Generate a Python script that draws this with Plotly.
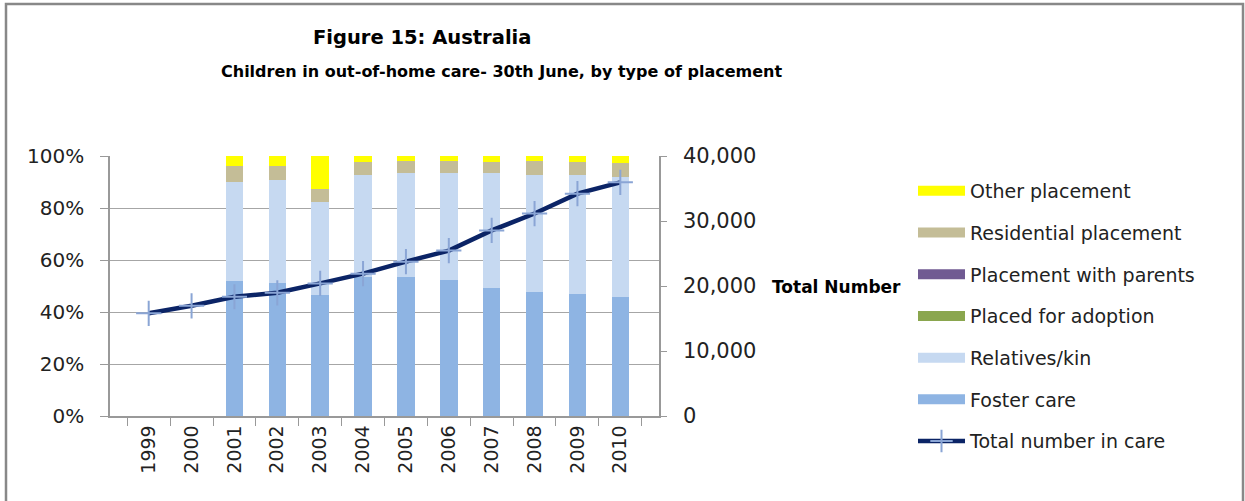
import plotly.graph_objects as go

# data
years = ["1999", "2000", "2001", "2002", "2003", "2004", "2005",
         "2006", "2007", "2008", "2009", "2010"]

# share of children by type of placement (fraction of total)
foster_care = [None, None, 0.519, 0.513, 0.465, 0.536, 0.535, 0.523, 0.494, 0.478, 0.469, 0.459]
relatives_kin = [None, None, 0.380, 0.395, 0.359, 0.392, 0.398, 0.410, 0.439, 0.449, 0.458, 0.459]
placed_adoption = [None, None, 0.0, 0.0, 0.0, 0.0, 0.0, 0.0, 0.0, 0.0, 0.0, 0.0]
with_parents = [None, None, 0.0, 0.0, 0.0, 0.0, 0.0, 0.0, 0.0, 0.0, 0.0, 0.0]
residential = [None, None, 0.064, 0.055, 0.049, 0.050, 0.049, 0.049, 0.045, 0.055, 0.050, 0.054]
other_placement = [None, None, 0.037, 0.037, 0.127, 0.022, 0.018, 0.018, 0.022, 0.018, 0.023, 0.028]

total_in_care = [15800, 16950, 18350, 18950, 20400, 21900, 23750,
                 25450, 28550, 31150, 34200, 35950]

left_ticks = [0, 0.2, 0.4, 0.6, 0.8, 1.0]
right_ticks = [0, 10000, 20000, 30000, 40000]

bar_series = [
    ("Foster care", foster_care, "#8EB4E3"),
    ("Relatives/kin", relatives_kin, "#C6D9F1"),
    ("Placed for adoption", placed_adoption, "#8AA64E"),
    ("Placement with parents", with_parents, "#705A92"),
    ("Residential placement", residential, "#C4BD97"),
    ("Other placement", other_placement, "#FFFF00"),
]

FONT = "DejaVu Sans"
W, H = 1245, 501
L, R, T, B = 110, 659, 156, 416

def px(x):
    return (x - L) / (R - L)

def py(y):
    return (B - y) / (B - T)

fig = go.Figure()

for name, vals, col in bar_series:
    fig.add_trace(go.Bar(x=years, y=vals, name=name, marker_color=col,
                         marker_line_width=0, showlegend=False, yaxis="y"))

# legend-only entries (top to bottom) so the swatch is a wide block like the original
for name, vals, col in reversed(bar_series):
    fig.add_trace(go.Scatter(x=[None], y=[None], mode="lines", name=name,
                             line=dict(color=col, width=12), legendgroup=name))

fig.add_trace(go.Scatter(
    x=years, y=total_in_care, name="Total number in care", yaxis="y2",
    mode="lines+markers",
    line=dict(color="#0B2466", width=4.5),
    marker=dict(symbol="cross-thin", size=18, color="#8AA5D5",
                line=dict(color="#8AA5D5", width=2)),
    legendgroup="total",
))

fig.update_layout(
    width=W, height=H,
    margin=dict(l=L, r=W - R, t=T, b=H - B),
    paper_bgcolor="white", plot_bgcolor="white",
    font=dict(family=FONT, size=17, color="#222"),
    barmode="stack", bargap=0.59,
    showlegend=True,
    legend=dict(x=px(913), y=py(172), xanchor="left", yanchor="top",
                traceorder="grouped", tracegroupgap=14, maxheight=420,
                itemwidth=47, font=dict(size=19, family=FONT, color="#222")),
    xaxis=dict(type="category", tickangle=-90, showline=True,
               linecolor="#999", linewidth=1.5,
               ticks="outside", tickson="boundaries", ticklen=8,
               tickcolor="#999", tickfont=dict(size=19), showgrid=False),
    yaxis=dict(range=[0, 1], tickvals=left_ticks, tickformat=".0%",
               showgrid=True, gridcolor="#a6a6a6", gridwidth=1.2,
               showline=True, linecolor="#999", linewidth=1.5,
               ticks="outside", ticklen=8, tickcolor="#999",
               ticklabelstandoff=12, tickfont=dict(size=20), zeroline=False),
    yaxis2=dict(range=[0, 40000], tickvals=right_ticks, tickformat=",",
                overlaying="y", side="right", showgrid=False,
                showline=True, linecolor="#999", linewidth=1.5,
                ticks="outside", ticklen=6, tickcolor="#999",
                ticklabelstandoff=12, tickfont=dict(size=21), zeroline=False),
)

fig.add_annotation(text="<b>Figure 15: Australia</b>", x=px(422), y=py(37),
                   xref="paper", yref="paper", xanchor="center", yanchor="middle",
                   showarrow=False, font=dict(size=19.5, family=FONT, color="black"))
fig.add_annotation(text="<b>Children in out-of-home care- 30th June, by type of placement</b>",
                   x=px(501), y=py(71), xref="paper", yref="paper",
                   xanchor="center", yanchor="middle", showarrow=False,
                   font=dict(size=16, family=FONT, color="black"))
fig.add_annotation(text="<b>Total Number</b>", x=px(770), y=py(287),
                   xref="paper", yref="paper", xanchor="left", yanchor="middle",
                   showarrow=False, font=dict(size=17, family=FONT, color="black"))

# outer chart frame
fig.add_shape(type="rect", xref="paper", yref="paper",
              x0=px(6), x1=px(1243), y0=py(520), y1=py(4),
              line=dict(color="#888", width=2.5), fillcolor="rgba(0,0,0,0)")

fig.write_html("out.html", config={"displayModeBar": False},
               post_script="document.body.style.margin='0';")
